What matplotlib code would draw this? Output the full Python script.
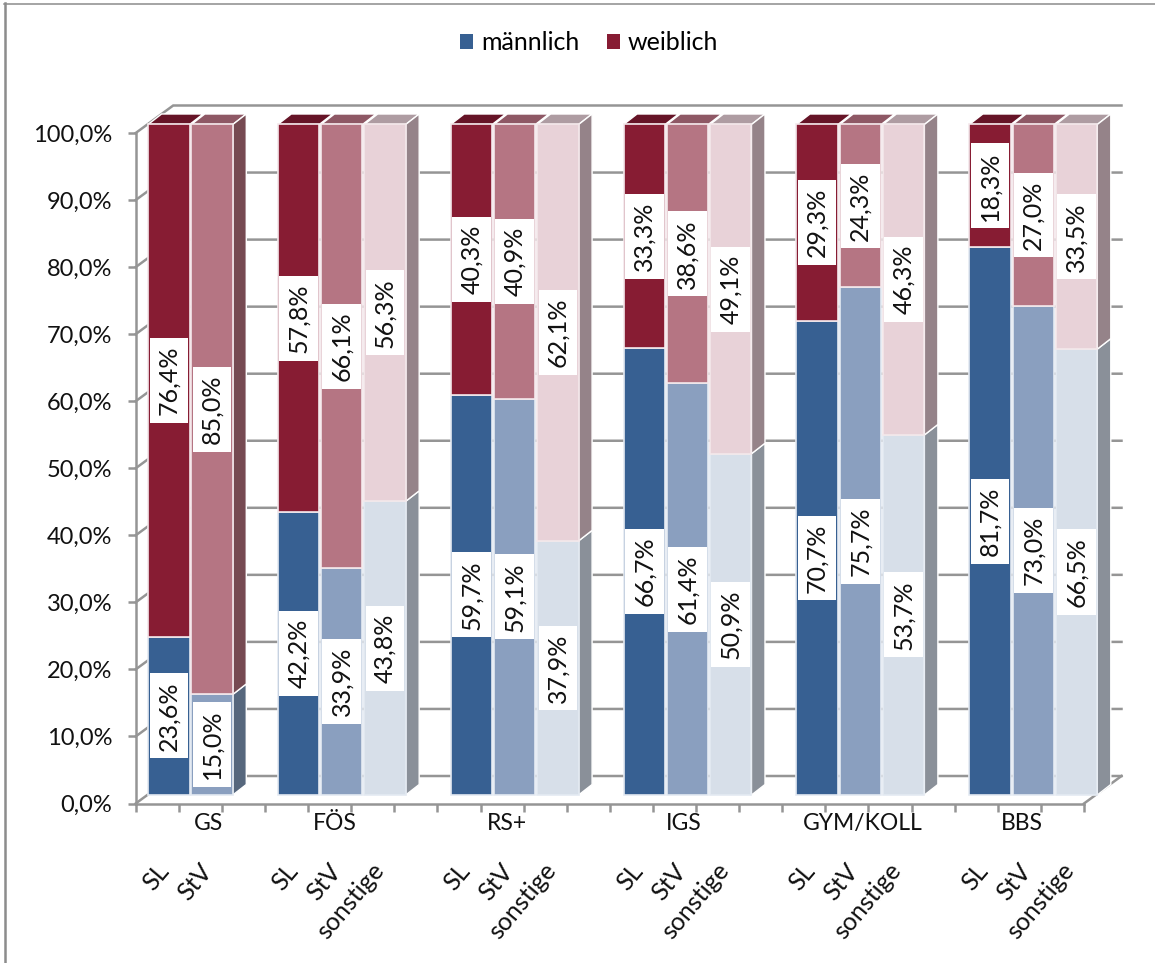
import matplotlib
matplotlib.use("Agg")
import matplotlib.pyplot as plt
from matplotlib.patches import Polygon, Patch
from matplotlib.lines import Line2D

plt.rcParams["font.family"] = ["Lato", "DejaVu Sans"]

GROUPS = ["GS", "FÖS", "RS+", "IGS", "GYM/KOLL", "BBS"]
ROLES = ["SL", "StV", "sonstige"]

# share of each role per school type, in percent
MALE = [
    [23.6, 15.0],
    [42.2, 33.9, 43.8],
    [59.7, 59.1, 37.9],
    [66.7, 61.4, 50.9],
    [70.7, 75.7, 53.7],
    [81.7, 73.0, 66.5],
]
FEMALE = [
    [76.4, 85.0],
    [57.8, 66.1, 56.3],
    [40.3, 40.9, 62.1],
    [33.3, 38.6, 49.1],
    [29.3, 24.3, 46.3],
    [18.3, 27.0, 33.5],
]

# one shade per role (SL, StV, sonstige)
MALE_FACE = ["#376092", "#8A9FBF", "#D7DFE9"]
FEMALE_FACE = ["#871C33", "#B57583", "#E8D2D8"]
MALE_SIDE = ["#2E4F78", "#56677D", "#8A9099"]
FEMALE_SIDE = ["#661427", "#764A52", "#958389"]
TOP_FACE = ["#661427", "#8E5865", "#AE9CA2"]
AXIS_COLOR = "#959595"

# pixel scale of the axes, used to express the fake 3D depth in data units
PX_X = 948.3 / 22
PX_Y = 670.5 / 100
BAR_DX, BAR_DY = 11.5 / PX_X, 8.5 / PX_Y        # front plane of the bars
SIDE_DX, SIDE_DY = 13.5 / PX_X, 10.5 / PX_Y     # depth of a bar
WALL_DX, WALL_DY = 37.5 / PX_X, 27.5 / PX_Y     # back wall
BAR_WIDTH = 41.5 / PX_X
BAR_STRETCH = 1.0028                            # bar plane is a bit wider than the axis
GROUP_STARTS = [0, 3, 7, 11, 15, 19]
GROUP_SHIFT = [0.68, 0.12, 0.11, 0.22, 0.37, 0.05]
FONT_SIZE = 18


def pct(value):
    return f"{value:.1f}".replace(".", ",") + "%"


def bar_x(slot):
    return slot * BAR_STRETCH + BAR_DX


def draw_walls(ax):
    """Back wall gridlines and the diagonal ticks that lead to it."""
    for k in range(0, 101, 10):
        ax.plot([0, WALL_DX, 22 + WALL_DX], [k, k + WALL_DY, k + WALL_DY],
                color=AXIS_COLOR, lw=1.8, clip_on=False, zorder=1,
                solid_joinstyle="miter")
    ax.plot([22, 22 + WALL_DX], [0, WALL_DY], color=AXIS_COLOR, lw=1.8,
            clip_on=False, zorder=1)


def draw_segment(ax, x, bottom, height, face, edge, side=None):
    y = bottom + BAR_DY
    ax.bar(bar_x(x), height, BAR_WIDTH, bottom=y, color=face, edgecolor=edge,
           linewidth=1.2, clip_on=False, zorder=3)
    if side:
        x1 = bar_x(x) + BAR_WIDTH / 2
        ax.add_patch(Polygon(
            [(x1, y), (x1, y + height), (x1 + SIDE_DX, y + height + SIDE_DY), (x1 + SIDE_DX, y + SIDE_DY)],
            facecolor=side, edgecolor="white", linewidth=1.0, clip_on=False, zorder=2))


def draw_top(ax, x, face):
    x0 = bar_x(x) - BAR_WIDTH / 2
    x1 = x0 + BAR_WIDTH
    y = 100 + BAR_DY
    ax.add_patch(Polygon(
        [(x0, y), (x1, y), (x1 + SIDE_DX, y + SIDE_DY), (x0 + SIDE_DX, y + SIDE_DY)],
        facecolor=face, edgecolor="white", linewidth=1.0, clip_on=False, zorder=2))


def draw_label(ax, x, center, value):
    ax.text(bar_x(x), center + BAR_DY, pct(value), rotation=90, ha="center", va="center",
            rotation_mode="anchor", fontsize=FONT_SIZE, color="#111111", clip_on=False, zorder=5,
            bbox=dict(facecolor="white", edgecolor="none", pad=5.5))


def main():
    fig = plt.figure(figsize=(11.55, 9.63), dpi=100)
    ax = fig.add_axes([135.7 / 1155, 1 - 803.5 / 963, 948.3 / 1155, 670.5 / 963])
    ax.set_xlim(0, 22)
    ax.set_ylim(0, 100)
    ax.patch.set_visible(False)

    for name in ["top", "right"]:
        ax.spines[name].set_visible(False)
    for name in ["left", "bottom"]:
        ax.spines[name].set_color(AXIS_COLOR)
        ax.spines[name].set_linewidth(1.8)
        ax.spines[name].set_zorder(1)

    ax.set_xticks(range(23))
    ax.set_xticklabels([])
    ax.set_yticks(range(0, 101, 10))
    ax.set_yticklabels([pct(k) for k in range(0, 101, 10)], fontsize=17, color="#111111")
    ax.tick_params(axis="both", length=6, width=1.8, color=AXIS_COLOR, pad=11)

    draw_walls(ax)

    for g, group in enumerate(GROUPS):
        start = GROUP_STARTS[g]
        count = len(MALE[g])
        for r in range(count):
            x = start + r + 0.5
            male, female = MALE[g][r], FEMALE[g][r]
            last = r == count - 1
            draw_top(ax, x, TOP_FACE[r])
            draw_segment(ax, x, 0, male, MALE_FACE[r], "#E4EAF2", MALE_SIDE[r] if last else None)
            draw_segment(ax, x, male, 100 - male, FEMALE_FACE[r], "#F4E8EB", FEMALE_SIDE[r] if last else None)
            draw_label(ax, x, male / 2, male)
            draw_label(ax, x, male + (100 - male) / 2, female)

            ax.text(x + 0.16, -0.094, ROLES[r], rotation=50, ha="right", va="center",
                    rotation_mode="anchor", fontsize=FONT_SIZE, color="#111111",
                    transform=ax.get_xaxis_transform(), clip_on=False)

        center = start + count / 2 + GROUP_SHIFT[g]
        ax.text(center, -0.03, group, ha="center", va="center", fontsize=16.5, color="#111111",
                transform=ax.get_xaxis_transform(), clip_on=False)

    handles = [Patch(facecolor=MALE_FACE[0], edgecolor="none"), Patch(facecolor=FEMALE_FACE[0], edgecolor="none")]
    fig.legend(handles, ["männlich", "weiblich"], loc="center", bbox_to_anchor=(589 / 1155, 1 - 43 / 963),
               ncol=2, frameon=False, fontsize=FONT_SIZE, handlelength=0.52, handleheight=0.52,
               handletextpad=0.3, columnspacing=1.1)

    # chart frame
    fig.add_artist(Line2D([5 / 1155, 5 / 1155], [0, 1 - 3 / 963], color="#8C8C8C", lw=1.8))
    fig.add_artist(Line2D([4 / 1155, 1], [1 - 4 / 963, 1 - 4 / 963], color="#8C8C8C", lw=1.1))

    fig.savefig("out.png", dpi=100, facecolor="white")


if __name__ == "__main__":
    main()
